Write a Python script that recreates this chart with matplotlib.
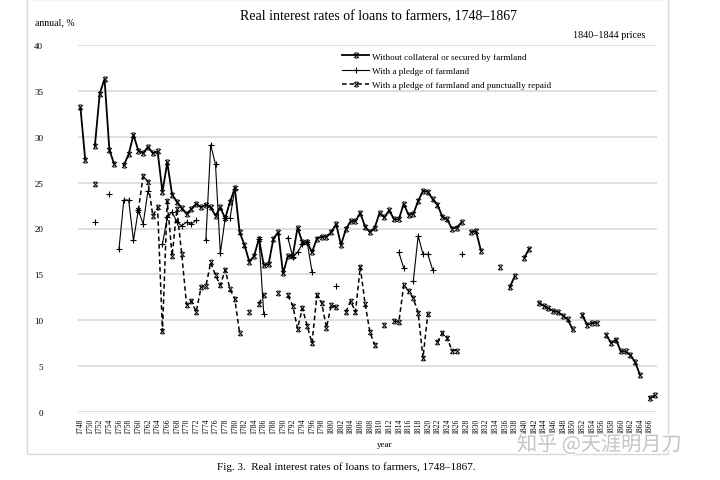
import numpy as np
import matplotlib.pyplot as plt
import matplotlib.patheffects as pe
from matplotlib.path import Path
from matplotlib.patches import Rectangle

plt.rcParams['font.family'] = ['Liberation Serif', 'DejaVu Serif']

years = list(range(1748, 1868))

# Without collateral or secured by farmland
no_pledge = [
    33.2, 27.5, None, 29.0, 34.7, 36.3, 28.6, 27.0, None, 26.9,   # 1748-1757
    28.1, 30.2, 28.5, 28.2, 28.9, 28.2, 28.4, 24.0, 27.2, 23.7,   # 1758-1767
    22.9, 22.2, 21.6, 22.1, 22.7, 22.3, 22.6, 22.3, 21.4, 22.3,   # 1768-1777
    21.1, 22.9, 24.4, 19.6, 18.2, 16.4, 17.0, 18.9, 16.0, 16.1,   # 1778-1787
    18.9, 19.6, 15.1, 17.0, 17.0, 20.1, 18.5, 18.5, 17.4, 18.9,   # 1788-1797
    19.1, 19.1, 19.6, 20.5, 18.2, 19.9, 20.8, 20.8, 21.7, 20.2,   # 1798-1807
    19.6, 20.1, 21.7, 21.2, 22.0, 21.0, 21.0, 22.7, 21.5, 21.6,   # 1808-1817
    23.0, 24.1, 24.0, 23.2, 22.6, 21.3, 21.0, 20.0, 20.1, 20.7,   # 1818-1827
    None, 19.6, 19.7, 17.6, None, None, None, 15.8, None, 13.6,   # 1828-1837
    14.8, None, 16.8, 17.8, None, 11.9, 11.6, 11.3, 11.0, 10.9,   # 1838-1847
    10.5, 10.1, 9.0, None, 10.6, 9.5, 9.7, 9.7, None, 8.4,        # 1848-1857
    7.5, 7.9, 6.6, 6.6, 6.2, 5.4, 4.0, None, 1.5, 1.8,            # 1858-1867
]

# With a pledge of farmland
pledge = [
    None, None, None, 20.7, None, None, 23.8, None, 17.8, 23.1,   # 1748-1757
    23.1, 18.7, 22.0, 20.5, 24.1, None, None, 18.3, 21.2, 21.8,   # 1758-1767
    20.7, 20.3, 20.7, 20.5, 20.9, None, 18.8, 29.1, 27.0, 17.3,   # 1768-1777
    21.1, 21.1, 24.3, None, None, None, None, 18.9, 10.7, None,   # 1778-1787
    None, None, None, 19.0, 16.9, 17.4, 18.3, 18.5, 15.3, None,   # 1788-1797
    None, None, None, 13.7, None, None, None, None, None, None,   # 1798-1807
    None, None, None, None, None, None, 17.4, 15.7, None, 14.3,   # 1808-1817
    19.2, 17.2, 17.2, 15.5, None, None, None, None, None, 17.2,   # 1818-1827
] + [None] * 40                                                   # 1828-1867

# With a pledge of farmland and punctually repaid
pledge_repaid = [
    None, None, None, 24.8, None, None, None, None, None, None,   # 1748-1757
    None, None, 22.0, 25.7, 25.1, 21.4, 22.3, 8.8, 23.0, 17.0,    # 1758-1767
    22.1, 17.2, 11.7, 12.1, 10.9, 13.6, 13.7, 16.3, 14.9, 13.8,   # 1768-1777
    15.5, 13.4, 12.3, 8.6, None, 10.9, None, 11.8, 12.8, None,    # 1778-1787
    None, 13.0, None, 12.7, 11.6, 9.1, 11.3, 9.4, 7.5, 12.7,      # 1788-1797
    11.9, 9.2, 11.7, 11.4, None, 10.9, 12.1, 10.9, 15.8, 11.8,    # 1798-1807
    8.7, 7.3, None, 9.5, None, 9.9, 9.8, 13.8, 13.2, 12.4,        # 1808-1817
    10.8, 5.9, 10.7, None, 7.6, 8.6, 8.1, 6.7, 6.7, None,         # 1818-1827
] + [None] * 40                                                   # 1828-1867

labels = ["Without collateral or secured by farmland",
          "With a pledge of farmland",
          "With a pledge of farmland and punctually repaid"]

# x marker with little caps, like the one in the original
xmark = Path([(-1, -1), (1, 1), (-1, 1), (1, -1),
              (-0.6, 1), (0.6, 1), (-0.6, -1), (0.6, -1)],
             [Path.MOVETO, Path.LINETO] * 4)

fig = plt.figure(figsize=(7.2, 4.81), dpi=100)
ax = fig.add_axes([78 / 720, 1 - 413 / 481, (657 - 78) / 720, (413 - 46) / 481])

ax.plot(years, np.array(no_pledge, dtype=float), color='black', lw=1.3,
        marker=xmark, ms=3.6, mfc='none', mec='black', mew=0.7, label=labels[0])
ax.plot(years, np.array(pledge, dtype=float), color='black', lw=0.8,
        marker='+', ms=4.5, mew=0.8, label=labels[1])
ax.plot(years, np.array(pledge_repaid, dtype=float), color='black', lw=1.1,
        ls=(0, (3, 2)), marker=xmark, ms=3.4, mfc='none', mec='black', mew=0.7,
        label=labels[2])

ax.set_xlim(1747.5, 1867.5)
ax.set_ylim(0, 40)
ax.set_yticks(range(0, 41, 5))
ax.set_xticks(years[::2])
ax.set_xticklabels([str(y) for y in years[::2]], rotation=90, fontsize=5.5)
ax.tick_params(axis='y', length=0, pad=25, labelsize=6.5)
ax.tick_params(axis='x', length=0, pad=4)
ax.grid(axis='y', color='#d9d9d9', lw=1.2)
ax.set_axisbelow(True)
for s in ax.spines.values():
    s.set_visible(False)

ax.set_xlabel('year', fontsize=6.5)
ax.xaxis.set_label_coords(0.53, -0.075)

ax.legend(loc='upper left', bbox_to_anchor=(334 / 720, 1 - 45 / 481),
          bbox_transform=fig.transFigure, frameon=False, fontsize=6.6,
          handlelength=2.9, labelspacing=0.62, handletextpad=0.35)

fig.text(378 / 720, 1 - 17 / 481, 'Real interest rates of loans to farmers, 1748\u20131867',
         ha='center', va='center', fontsize=10)
fig.text(35 / 720, 1 - 23 / 481, 'annual, %', ha='left', va='center', fontsize=7)
fig.text(645 / 720, 1 - 35 / 481, '1840\u20131844 prices', ha='right', va='center',
         fontsize=7.3)
fig.text(346 / 720, 1 - 467 / 481,
         'Fig. 3.  Real interest rates of loans to farmers, 1748\u20131867.',
         ha='center', va='center', fontsize=8)

fig.patches.append(Rectangle((27 / 720, 1 - 455 / 481), (668 - 27) / 720, 455 / 481,
                             transform=fig.transFigure, fill=False,
                             edgecolor='#d9d9d9', lw=1))

fig.text(517 / 720, 1 - 446 / 481, '知乎 @天涯明月刀', ha='left', va='center',
         fontsize=14.5, color='#c4c4c4', family=['Noto Sans CJK SC', 'DejaVu Sans'],
         path_effects=[pe.withStroke(linewidth=2, foreground='white')])

fig.savefig('out.png', dpi=100)
